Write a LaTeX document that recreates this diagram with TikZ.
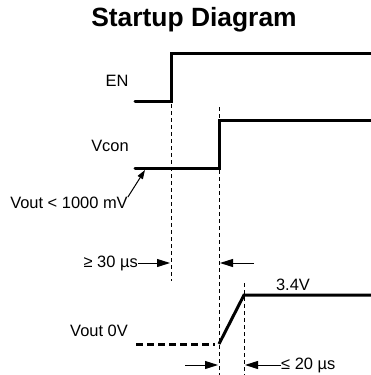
\documentclass[tikz,border=0pt]{standalone}
\usepackage{fontspec}
\setmainfont{Liberation Sans}
\usetikzlibrary{arrows.meta}
\begin{document}
\begin{tikzpicture}[x=1bp,y=-1bp,
  wave/.style={line width=3bp},
  guide/.style={line width=0.8bp, dash pattern=on 4bp off 3bp},
  lbl/.style={font=\fontsize{16.5}{19}\selectfont, inner sep=0pt},
  arr/.style={line width=1bp, -{Triangle[length=13bp,width=8bp]}},
  sarr/.style={line width=1bp, -{Triangle[length=9bp,width=6bp]}}]
\useasboundingbox (0,0) rectangle (371,375);
\node[font=\bfseries\fontsize{26.5}{30}\selectfont, inner sep=0pt] (title) at (194,20) {Startup Diagram};
% EN
\coordinate (en0) at (135,101);
\coordinate (en1) at (171,101);
\coordinate (en2) at (171,53);
\coordinate (en3) at (371,53);
\draw[wave, line cap=round] (en0) -- (en1) -- (en2) -- (en3);
\node[lbl] (enl) at (117,81) {EN};
% Vcon
\coordinate (vc0) at (135,168);
\coordinate (vc1) at (219,168);
\coordinate (vc2) at (219,120);
\coordinate (vc3) at (371,120);
\draw[wave, line cap=round] (vc0) -- (vc1) -- (vc2) -- (vc3);
\node[lbl] (vcl) at (110,146) {Vcon};
% Vout
\coordinate (vo0) at (136,344);
\coordinate (vo1) at (215,344);
\coordinate (vo2) at (219,344);
\coordinate (vo3) at (244,295);
\coordinate (vo4) at (371,295);
\draw[line width=3bp, dash pattern=on 7bp off 4bp] (vo0) -- (vo1);
\draw[wave] (vo2) -- (vo3) -- (vo4);
\node[lbl] (vol) at (99,331) {Vout 0V};
\node[lbl] (v34) at (293,285) {3.4V};
% guides
\coordinate (g1a) at (171,104);
\coordinate (g1b) at (171,281);
\coordinate (g2a) at (219,107);
\coordinate (g2b) at (219,375);
\coordinate (g3a) at (244,283);
\coordinate (g3b) at (244,375);
\draw[guide] (g1a) -- (g1b);
\draw[guide] (g2a) -- (g2b);
\draw[guide] (g3a) -- (g3b);
% Vout < 1000 mV
\node[lbl] (vlim) at (69,203) {Vout < 1000 mV};
\coordinate (vlimt) at (145,170);
\draw[sarr] (vlim.north east) -- (vlimt);
% 30 us
\node[lbl, anchor=east] (t30) at (138,263) {≥ 30 µs};
\coordinate (t30a) at (170,263);
\coordinate (t30b) at (254,263);
\coordinate (t30c) at (220,263);
\draw[arr] (t30.east) -- (t30a);
\draw[arr] (t30b) -- (t30c);
% 20 us
\node[lbl, anchor=west] (t20) at (281,365) {≤ 20 µs};
\coordinate (t20a) at (185,365);
\coordinate (t20b) at (218,365);
\coordinate (t20c) at (245,365);
\draw[arr] (t20a) -- (t20b);
\draw[arr] (t20.west) -- (t20c);
\end{tikzpicture}
\end{document}
